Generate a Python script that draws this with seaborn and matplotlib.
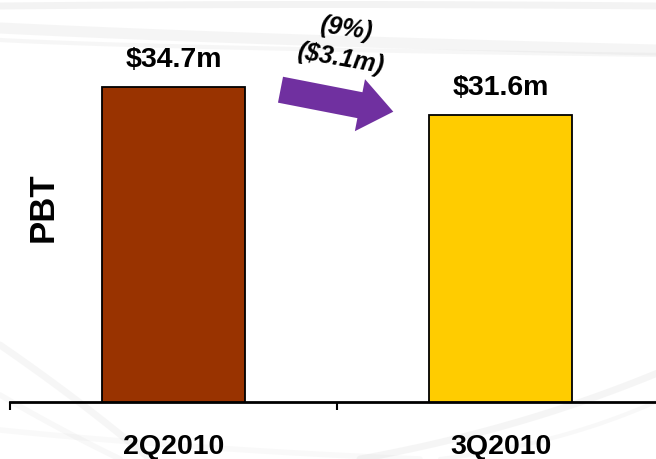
import numpy as np
import pandas as pd
import matplotlib
matplotlib.use("Agg")
import matplotlib.pyplot as plt
import matplotlib.patches as mpatches
import matplotlib.transforms as mtransforms
from matplotlib.lines import Line2D
import seaborn as sns

# PBT by quarter ($ millions)
quarters = ["2Q2010", "3Q2010"]
pbt = [34.7, 31.6]
bar_colors = ["#993300", "#FFCC00"]
axis_label = "PBT"

sns.set_style("white")
plt.rcParams["font.family"] = ["Liberation Sans", "DejaVu Sans"]
plt.rcParams["text.color"] = "black"
plt.rcParams["xtick.color"] = "black"
plt.rcParams["xtick.labelcolor"] = "black"

W, H, DPI = 656, 459, 100
fig = plt.figure(figsize=(W / DPI, H / DPI), dpi=DPI)
fig.patch.set_facecolor("white")

# pixel transform with origin at top-left of the figure
px = mtransforms.Affine2D().scale(1.0 / DPI, -1.0 / DPI).translate(0, H / DPI) + fig.dpi_scale_trans

# faint decorative swirls in the background
def swirl(xs, ys, lw, alpha):
    t = np.linspace(0, 1, 60)
    xs = np.asarray(xs, float)
    ys = np.asarray(ys, float)
    # quadratic Bezier through three control points
    bx = (1 - t) ** 2 * xs[0] + 2 * (1 - t) * t * xs[1] + t ** 2 * xs[2]
    by = (1 - t) ** 2 * ys[0] + 2 * (1 - t) * t * ys[1] + t ** 2 * ys[2]
    fig.add_artist(Line2D(bx, by, transform=px, color="#d0d0d0", lw=lw,
                          alpha=alpha, solid_capstyle="round", zorder=0))

swirl([0, 330, 656], [6, 3, 6], 5, 0.25)
swirl([0, 250, 656], [28, 40, 50], 8, 0.20)
swirl([0, 150, 660], [40, 48, 55], 3, 0.18)
swirl([0, 80, 150], [345, 400, 459], 5, 0.18)
swirl([0, 60, 120], [395, 430, 459], 4, 0.15)
swirl([0, 200, 420], [430, 450, 459], 4, 0.12)
swirl([660, 520, 360], [372, 430, 459], 5, 0.20)
swirl([660, 560, 440], [400, 445, 459], 3, 0.14)

ax = fig.add_axes([10 / W, (H - 402) / H, 654 / W, 402 / H])
ax.patch.set_alpha(0)

df = pd.DataFrame({"quarter": quarters, "pbt": pbt})
sns.barplot(data=df, x="quarter", y="pbt", hue="quarter", palette=bar_colors,
            saturation=1, width=0.44, edgecolor="black", linewidth=1.3,
            legend=False, ax=ax, zorder=3)

ax.set_xlim(-0.5, 1.5)
ax.set_ylim(0, 44.24)
ax.set_xlabel("")
ax.set_ylabel("")
ax.set_yticks([])
for side in ("top", "right", "left"):
    ax.spines[side].set_visible(False)
ax.spines["bottom"].set_linewidth(2)
ax.spines["bottom"].set_color("black")

ax.set_xticks(range(len(quarters)))
ax.set_xticklabels(quarters, fontsize=20.5, fontweight="bold", color="black")
ax.tick_params(axis="x", which="major", bottom=True, length=0, pad=23)
ax.set_xticks([-0.5, 0.5, 1.5], minor=True)
ax.tick_params(axis="x", which="minor", bottom=True, length=6, width=1.5,
               color="black", direction="out")

# value labels above bars
for cont in ax.containers:
    ax.bar_label(cont, labels=[f"${v:.1f}m" for v in cont.datavalues],
                 padding=10, fontsize=20.5, fontweight="bold", color="black")

fig.text(43 / W, 1 - 207 / H, axis_label, rotation=90, fontsize=25,
         fontweight="bold", ha="center", va="center", color="black")

# change arrow between the two quarters
tail = np.array([280.5, 89.7])
tip = np.array([393.3, 111.7])
d = tip - tail
arrow = mpatches.FancyArrow(tail[0], tail[1], d[0], d[1], width=26.4,
                            head_width=53, head_length=34,
                            length_includes_head=True, transform=px,
                            color="#7030A0", lw=0, zorder=5)
fig.add_artist(arrow)

diff = pbt[1] - pbt[0]
pct = diff / pbt[0] * 100
fig.text(346 / W, 1 - 29 / H, f"({abs(pct):.0f}%)", rotation=-8,
         fontsize=18, fontweight="bold", fontstyle="italic", color="black",
         ha="center", va="center", rotation_mode="anchor")
fig.text(340 / W, 1 - 59 / H, f"(${abs(diff):.1f}m)", rotation=-10,
         fontsize=18, fontweight="bold", fontstyle="italic", color="black",
         ha="center", va="center", rotation_mode="anchor")

fig.savefig("out.png", dpi=DPI, facecolor="white")
